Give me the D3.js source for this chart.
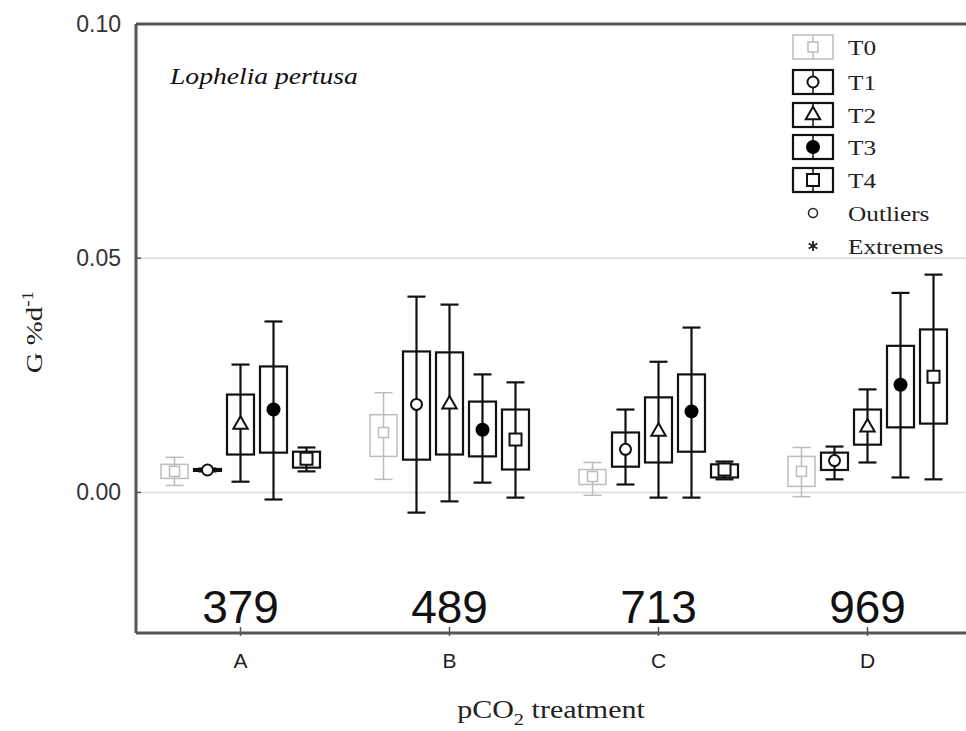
<!DOCTYPE html>
<html>
<head>
<meta charset="utf-8">
<script src="https://cdn.jsdelivr.net/npm/d3@7/dist/d3.min.js"></script>
<style>
  body { margin: 0; background: #fff; }
  svg { display: block; }
  .serif { font-family: "Liberation Serif", "DejaVu Serif", serif; }
  .sans { font-family: "Liberation Sans", Arial, sans-serif; }
</style>
</head>
<body>
<div id="chart"></div>
<script>
var categories = ["A", "B", "C", "D"];
var pco2 = ["379", "489", "713", "969"];
var series = ["T0", "T1", "T2", "T3", "T4"];
var yTicks = [0.00, 0.05, 0.10];

// one row per series (T0..T4), one value per category (A..D)
var means = [
  [0.0045, 0.0128, 0.0034, 0.0045],
  [0.0048, 0.0188, 0.0092, 0.0068],
  [0.0145, 0.0188, 0.0130, 0.0139],
  [0.0177, 0.0134, 0.0173, 0.0230],
  [0.0072, 0.0113, 0.0049, 0.0247]
];
var boxLow = [
  [0.0030, 0.0077, 0.0017, 0.0013],
  [0.0046, 0.0070, 0.0055, 0.0048],
  [0.0081, 0.0081, 0.0064, 0.0102],
  [0.0085, 0.0077, 0.0087, 0.0139],
  [0.0053, 0.0049, 0.0032, 0.0147]
];
var boxHigh = [
  [0.0060, 0.0166, 0.0049, 0.0077],
  [0.0050, 0.0301, 0.0128, 0.0085],
  [0.0209, 0.0299, 0.0203, 0.0177],
  [0.0269, 0.0194, 0.0252, 0.0313],
  [0.0087, 0.0177, 0.0060, 0.0348]
];
var whiskLow = [
  [0.0015, 0.0028, -0.0006, -0.0009],
  [0.0045, -0.0043, 0.0017, 0.0028],
  [0.0023, -0.0019, -0.0011, 0.0064],
  [-0.0015, 0.0021, -0.0011, 0.0032],
  [0.0045, -0.0011, 0.0028, 0.0028]
];
var whiskHigh = [
  [0.0075, 0.0213, 0.0064, 0.0096],
  [0.0051, 0.0418, 0.0177, 0.0098],
  [0.0273, 0.0401, 0.0279, 0.0220],
  [0.0365, 0.0252, 0.0352, 0.0426],
  [0.0096, 0.0235, 0.0066, 0.0465]
];

var width = 966, height = 731;
var plotLeft = 136, plotTop = 24, plotBottom = 633;

var svg = d3.select("#chart").append("svg")
  .attr("width", width)
  .attr("height", height);

var y = d3.scaleLinear().domain([-0.03, 0.10]).range([plotBottom, plotTop]);
var x = d3.scaleBand().domain(categories).range([136, 972]).padding(0);
var xi = d3.scaleBand().domain(series).range([-82.5, 82.5]).padding(0);

var frameColor = "#555";
var light = "#bdbdbd";
var boxW = 27, capW = 18;

// grid lines
svg.selectAll(".grid")
  .data(yTicks.filter(function(t) { return t < 0.1; }))
  .enter().append("line")
  .attr("x1", plotLeft).attr("x2", width)
  .attr("y1", function(d) { return y(d); })
  .attr("y2", function(d) { return y(d); })
  .attr("stroke", "#dcdcdc")
  .attr("stroke-width", 1.5);

// y tick labels
svg.selectAll(".ytick")
  .data(yTicks)
  .enter().append("text")
  .attr("class", "sans")
  .attr("x", 121)
  .attr("y", function(d) { return y(d) + 8; })
  .attr("text-anchor", "end")
  .attr("font-size", 23)
  .attr("fill", "#333")
  .text(function(d) { return d3.format(".2f")(d); });

svg.selectAll(".ytickmark")
  .data(yTicks)
  .enter().append("line")
  .attr("x1", plotLeft).attr("x2", plotLeft + 5)
  .attr("y1", function(d) { return y(d); })
  .attr("y2", function(d) { return y(d); })
  .attr("stroke", frameColor).attr("stroke-width", 1.5);

// boxes
var groups = svg.selectAll(".grp")
  .data(categories)
  .enter().append("g")
  .attr("transform", function(d) { return "translate(" + (x(d) + x.bandwidth() / 2) + ",0)"; });

groups.each(function(cat, ci) {
  var g = d3.select(this);
  series.forEach(function(s, si) {
    var cx = xi(s) + xi.bandwidth() / 2;
    var col = si === 0 ? light : "#111";
    var sw = si === 0 ? 1.5 : 2.2;
    var b = g.append("g").attr("transform", "translate(" + cx + ",0)");
    b.append("rect")
      .attr("x", -boxW / 2)
      .attr("y", y(boxHigh[si][ci]))
      .attr("width", boxW)
      .attr("height", Math.max(1, y(boxLow[si][ci]) - y(boxHigh[si][ci])))
      .attr("fill", "none")
      .attr("stroke", col).attr("stroke-width", sw);
    b.append("line")
      .attr("x1", 0).attr("x2", 0)
      .attr("y1", y(whiskLow[si][ci])).attr("y2", y(whiskHigh[si][ci]))
      .attr("stroke", col).attr("stroke-width", sw);
    [whiskLow[si][ci], whiskHigh[si][ci]].forEach(function(v) {
      b.append("line")
        .attr("x1", -capW / 2).attr("x2", capW / 2)
        .attr("y1", y(v)).attr("y2", y(v))
        .attr("stroke", col).attr("stroke-width", sw);
    });
    drawMarker(b, si, y(means[si][ci]), col);
  });
});

function drawMarker(sel, si, cy, col) {
  if (si === 0) {
    sel.append("rect").attr("x", -5).attr("y", cy - 5).attr("width", 10).attr("height", 10)
      .attr("fill", "#fff").attr("stroke", col).attr("stroke-width", 1.5);
  } else if (si === 1) {
    sel.append("circle").attr("cx", 0).attr("cy", cy).attr("r", 5.5)
      .attr("fill", "#fff").attr("stroke", col).attr("stroke-width", 2);
  } else if (si === 2) {
    sel.append("path")
      .attr("d", d3.symbol().type(d3.symbolTriangle).size(90)())
      .attr("transform", "translate(0," + cy + ")")
      .attr("fill", "#fff").attr("stroke", col).attr("stroke-width", 2);
  } else if (si === 3) {
    sel.append("circle").attr("cx", 0).attr("cy", cy).attr("r", 7)
      .attr("fill", "#000");
  } else {
    sel.append("rect").attr("x", -6).attr("y", cy - 6).attr("width", 12).attr("height", 12)
      .attr("fill", "#fff").attr("stroke", col).attr("stroke-width", 2);
  }
}

// frame
svg.append("line").attr("x1", plotLeft).attr("x2", width).attr("y1", plotTop).attr("y2", plotTop)
  .attr("stroke", frameColor).attr("stroke-width", 3);
svg.append("line").attr("x1", plotLeft).attr("x2", plotLeft).attr("y1", plotTop).attr("y2", plotBottom)
  .attr("stroke", frameColor).attr("stroke-width", 3);
svg.append("line").attr("x1", plotLeft).attr("x2", width).attr("y1", plotBottom).attr("y2", plotBottom)
  .attr("stroke", frameColor).attr("stroke-width", 3);

// x ticks, labels and pCO2 values
svg.selectAll(".xtick")
  .data(categories)
  .enter().append("line")
  .attr("x1", function(d) { return x(d) + x.bandwidth() / 2; })
  .attr("x2", function(d) { return x(d) + x.bandwidth() / 2; })
  .attr("y1", plotBottom - 6).attr("y2", plotBottom + 3)
  .attr("stroke", frameColor).attr("stroke-width", 1.5);

svg.selectAll(".xlab")
  .data(categories)
  .enter().append("text")
  .attr("class", "sans")
  .attr("x", function(d) { return x(d) + x.bandwidth() / 2; })
  .attr("y", 668)
  .attr("text-anchor", "middle")
  .attr("font-size", 21)
  .attr("fill", "#222")
  .text(function(d) { return d; });

svg.selectAll(".pco2")
  .data(pco2)
  .enter().append("text")
  .attr("class", "sans")
  .attr("x", function(d, i) { return x(categories[i]) + x.bandwidth() / 2; })
  .attr("y", 623)
  .attr("text-anchor", "middle")
  .attr("font-size", 46)
  .attr("fill", "#111")
  .text(function(d) { return d; });

// axis titles
var xt = svg.append("text")
  .attr("class", "serif")
  .attr("transform", "translate(" + ((plotLeft + width) / 2) + ",718) scale(1.2,1)")
  .attr("text-anchor", "middle")
  .attr("font-size", 25)
  .attr("fill", "#222");
xt.append("tspan").text("pCO");
xt.append("tspan").attr("font-size", 17).attr("dy", 7).text("2");
xt.append("tspan").attr("dy", -7).text(" treatment");

var yt = svg.append("text")
  .attr("class", "serif")
  .attr("transform", "translate(42,332) rotate(-90) scale(1.2,1)")
  .attr("text-anchor", "middle")
  .attr("font-size", 24)
  .attr("fill", "#222");
yt.append("tspan").text("G %d");
yt.append("tspan").attr("font-size", 16).attr("dy", -9).text("-1");

svg.append("text")
  .attr("class", "serif")
  .attr("transform", "translate(170,84) scale(1.2,1)")
  .attr("font-size", 23)
  .attr("font-style", "italic")
  .attr("fill", "#111")
  .text("Lophelia pertusa");

// legend
var legend = svg.append("g").attr("transform", "translate(793,0)");
var legY = [47, 82, 115, 147, 180, 213, 246];

series.forEach(function(s, si) {
  var col = si === 0 ? light : "#111";
  var row = legend.append("g").attr("transform", "translate(0," + legY[si] + ")");
  row.append("rect").attr("x", 0).attr("y", -12).attr("width", 40).attr("height", 24)
    .attr("fill", "#fff").attr("stroke", col).attr("stroke-width", si === 0 ? 1.5 : 2.2);
  row.append("line").attr("x1", 20).attr("x2", 20).attr("y1", -12).attr("y2", 12)
    .attr("stroke", col).attr("stroke-width", 1.5);
  drawMarker(row.append("g").attr("transform", "translate(20,0)"), si, 0, col);
  row.append("text")
    .attr("class", "serif")
    .attr("transform", "translate(55,8) scale(1.15,1)")
    .attr("font-size", 22)
    .attr("fill", "#222")
    .text(s);
});

var oRow = legend.append("g").attr("transform", "translate(0," + legY[5] + ")");
oRow.append("circle").attr("cx", 20).attr("cy", 0).attr("r", 4.5)
  .attr("fill", "#fff").attr("stroke", "#222").attr("stroke-width", 1.5);
oRow.append("text").attr("class", "serif").attr("transform", "translate(55,8) scale(1.15,1)")
  .attr("font-size", 22).attr("fill", "#222").text("Outliers");

var eRow = legend.append("g").attr("transform", "translate(0," + legY[6] + ")");
eRow.append("path")
  .attr("d", d3.symbol().type(d3.symbolAsterisk).size(70)())
  .attr("transform", "translate(20,0)")
  .attr("stroke", "#222").attr("stroke-width", 1.8);
eRow.append("text").attr("class", "serif").attr("transform", "translate(55,8) scale(1.15,1)")
  .attr("font-size", 22).attr("fill", "#222").text("Extremes");
</script>
</body>
</html>
